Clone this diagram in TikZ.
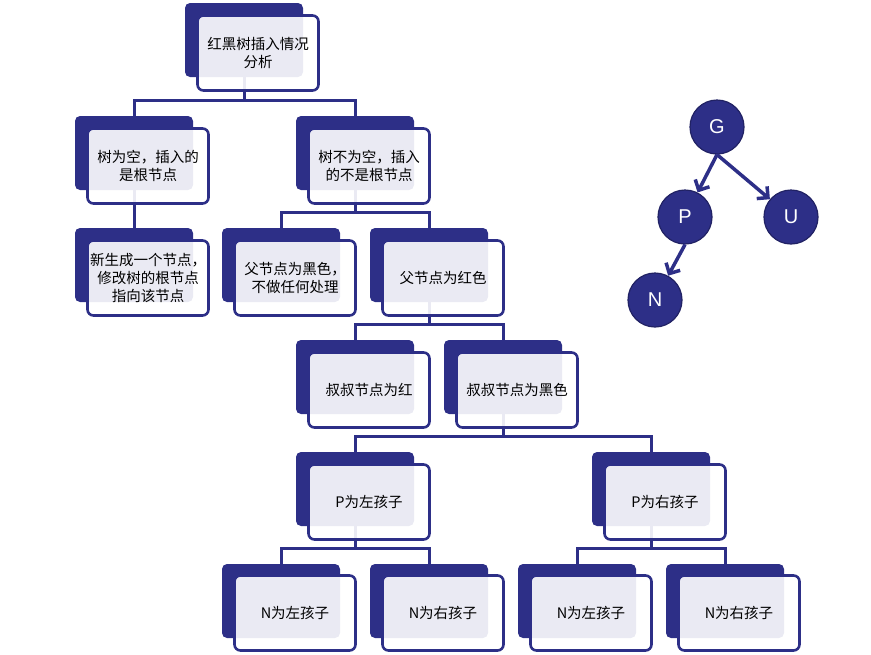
\documentclass[tikz,border=0pt]{standalone}
\usepackage{fontspec}
\newfontfamily\cjk{Noto Sans CJK SC}
\newfontfamily\lat{Liberation Sans}
\usetikzlibrary{arrows.meta,calc}
\definecolor{navy}{RGB}{45,47,135}
\definecolor{navyedge}{RGB}{33,34,100}
\begin{document}
\begin{tikzpicture}[x=1pt,y=-1pt,
 back/.style={rectangle,rounded corners=5pt,fill=navy,minimum width=118pt,minimum height=74pt,inner sep=0pt},
 front/.style={rectangle,rounded corners=6pt,draw=navy,line width=2.6pt,fill=white,fill opacity=0.9,text opacity=1,draw opacity=1,minimum width=121pt,minimum height=75pt,inner sep=1pt,align=center,font=\cjk\fontsize{14.5}{18}\selectfont},
 conn/.style={draw=navy,line width=3pt},
 tn/.style={circle,fill=navy,draw=navyedge,line width=1.2pt,minimum size=54pt,inner sep=0pt,text=white,font=\lat\fontsize{20}{24}\selectfont},
 arr/.style={draw=navy,line width=3.5pt,-{Straight Barb[length=8pt,width=16pt]}}
]
\useasboundingbox (0,0) rectangle (871,654);

% back (dark) boxes
\node[back] (b0) at (244,40) {};
\node[back] (bA) at (134,153) {};
\node[back] (bB) at (355,153) {};
\node[back] (bA1) at (134,265) {};
\node[back] (bB1) at (281,265) {};
\node[back] (bB2) at (429,265) {};
\node[back] (bC1) at (355,377) {};
\node[back] (bC2) at (503,377) {};
\node[back] (bD1) at (355,489) {};
\node[back] (bD2) at (651,489) {};
\node[back] (bE1) at (281,601) {};
\node[back] (bE2) at (429,601) {};
\node[back] (bE3) at (577,601) {};
\node[back] (bE4) at (725,601) {};

% connectors
\foreach \p/\c in {b0/bA,b0/bB,bA/bA1,bB/bB1,bB/bB2,bB2/bC1,bB2/bC2,bC2/bD1,bC2/bD2,bD1/bE1,bD1/bE2,bD2/bE3,bD2/bE4}{
  \draw[conn] (\p.south) |- ($(\c.north)+(0,-15)$) -| (\c.north);
}

% front boxes
\node[front] (f0) at (258,53) {红黑树插入情况\\分析};
\node[front] (fA) at (148,166) {树为空，插入的\\是根节点};
\node[front] (fB) at (369,166) {树不为空，插入\\的不是根节点};
\node[front] (fA1) at (148,278) {新生成一个节点，\\修改树的根节点\\指向该节点};
\node[front] (fB1) at (295,278) {父节点为黑色，\\不做任何处理};
\node[front] (fB2) at (443,278) {父节点为红色};
\node[front] (fC1) at (369,390) {叔叔节点为红};
\node[front] (fC2) at (517,390) {叔叔节点为黑色};
\node[front] (fD1) at (369,502) {P为左孩子};
\node[front] (fD2) at (665,502) {P为右孩子};
\node[front] (fE1) at (295,613) {N为左孩子};
\node[front] (fE2) at (443,613) {N为右孩子};
\node[front] (fE3) at (591,613) {N为左孩子};
\node[front] (fE4) at (739,613) {N为右孩子};

% small tree
\node[tn] (G) at (717,127) {G};
\node[tn] (P) at (685,217) {P};
\node[tn] (U) at (791,217) {U};
\node[tn] (N) at (655,300) {N};
\draw[arr] (G.south) -- (P);
\draw[arr] (G.south) -- (U);
\draw[arr] (P.south) -- (N);
\end{tikzpicture}
\end{document}
